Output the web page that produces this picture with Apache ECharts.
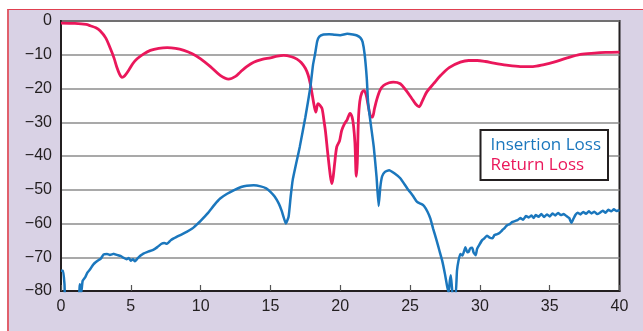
<!DOCTYPE html>
<html>
<head>
<meta charset="utf-8">
<script src="https://cdn.jsdelivr.net/npm/echarts@6/dist/echarts.min.js"></script>
<style>
  html, body { margin: 0; padding: 0; background: #ffffff; }
  #frame {
    position: absolute; left: 7px; top: 9px; width: 636px; height: 322px;
    background: #d9d2e5; border-left: 2px solid #e0606c; border-top: 1px solid #e04050;
    box-sizing: border-box;
  }
  #plotbg { position: absolute; left: 61px; top: 21px; width: 559px; height: 270px; background: #ffffff; }
  #chart { position: absolute; left: 0; top: 0; width: 643px; height: 331px; }
</style>
</head>
<body>
<div id="frame"></div>
<div id="plotbg"></div>
<div id="chart"></div>
<script>
// Frequency axis (GHz) and level axis (dB)
const xTicks = [0, 5, 10, 15, 20, 25, 30, 35, 40];
const yTicks = [0, -10, -20, -30, -40, -50, -60, -70, -80];

// Insertion loss trace
const insFreq = [0.0,0.15,0.25,0.35,1.25,1.35,1.45,1.55,1.75,1.9,2.1,2.3,2.5,2.7,2.85,3.05,3.3,3.5,3.8,4.0,4.26,4.5,4.7,4.85,5.0,5.15,5.3,5.45,5.7,5.9,6.2,6.6,6.9,7.2,7.4,7.6,7.85,8.07,8.5,9.0,9.4,9.7,10.0,10.5,11.0,11.4,11.9,12.4,12.9,13.3,13.8,14.3,14.7,15.0,15.3,15.6,15.8,15.95,16.1,16.3,16.45,16.6,17.1,17.5,17.86,18.05,18.2,18.35,18.5,18.8,19.2,19.6,20.0,20.5,20.9,21.2,21.45,21.6,21.75,21.9,22.0,22.2,22.4,22.6,22.75,22.87,23.0,23.2,23.5,23.9,24.3,24.8,25.2,25.5,25.8,26.0,26.25,26.45,26.65,26.9,27.1,27.3,27.5,27.65,27.76,27.85,27.92,28.0,28.07,28.25,28.36,28.47,28.6,28.75,28.9,28.96,29.1,29.2,29.3,29.45,29.55,29.7,29.8,29.95,30.15,30.3,30.5,30.7,30.9,31.05,31.2,31.4,31.6,31.8,31.95,32.15,32.3,32.5,32.7,32.9,33.1,33.3,33.5,33.7,33.85,34.0,34.2,34.4,34.6,34.8,35.0,35.2,35.4,35.6,35.8,36.0,36.2,36.4,36.55,36.7,36.85,37.0,37.2,37.4,37.6,37.8,38.0,38.2,38.4,38.6,38.8,39.0,39.2,39.4,39.6,39.8,40.0];
const insLoss = [-74,-74,-78,-84,-82,-78,-80.5,-77,-75.8,-74.5,-73.5,-72.2,-71.4,-70.8,-70.4,-69.2,-69.0,-69.3,-69.0,-69.3,-69.6,-70.2,-70.6,-70.2,-71.0,-70.6,-71.2,-70.5,-69.5,-68.9,-68.4,-67.8,-67.0,-66.0,-65.8,-66.0,-65.0,-64.4,-63.5,-62.5,-61.5,-60.4,-59.2,-57.0,-54.4,-52.6,-51.2,-50.1,-49.2,-48.8,-48.7,-49.0,-49.6,-50.6,-52.0,-54.1,-56.2,-58.2,-60.0,-58.0,-52,-47,-37.3,-28.5,-19.6,-13,-9.7,-6,-4.6,-4.0,-3.9,-4.1,-4.2,-3.8,-4.0,-4.3,-5.0,-6.2,-10,-17,-24.5,-31,-37.3,-46.2,-54.8,-49.2,-46,-44.7,-44.2,-45.2,-46.6,-49.6,-51.8,-53.6,-54.2,-54.8,-56.5,-58.5,-61.5,-65,-68,-71,-75,-78.5,-80.5,-77,-75.3,-79,-82,-82,-74,-71,-69,-69.5,-67.8,-67,-68.5,-68.4,-67.4,-67.2,-68.6,-69.4,-67.5,-66.4,-65,-64.5,-63.6,-64.2,-64.4,-63.4,-63.2,-62.8,-62.0,-61.2,-60.5,-60.2,-59.6,-59.3,-59.0,-58.4,-58.9,-57.8,-58.2,-57.6,-58.4,-57.5,-58.0,-57.2,-58.1,-57.3,-57.9,-57.0,-57.6,-56.9,-57.5,-57.2,-57.8,-58.4,-59.8,-58.6,-57.4,-56.8,-57.3,-56.6,-57.1,-56.4,-57.0,-56.5,-57.2,-56.8,-56.2,-56.8,-55.9,-56.4,-55.8,-56.3,-56.0];

// Return loss trace
const retFreq = [0,1,1.8,2.1,2.5,2.8,3.2,3.5,3.8,4.0,4.2,4.37,4.55,4.85,5.15,5.45,5.9,6.4,7.0,7.6,8.2,8.8,9.4,10.0,10.7,11.4,12.0,12.5,12.85,13.3,13.8,14.4,15.0,15.5,15.95,16.5,16.9,17.2,17.5,17.7,17.85,18.0,18.15,18.25,18.4,18.55,18.7,18.85,18.95,19.1,19.3,19.4,19.5,19.6,19.75,19.95,20.1,20.3,20.5,20.7,20.85,20.95,21.05,21.15,21.22,21.3,21.4,21.55,21.7,21.85,22.0,22.15,22.3,22.45,22.6,22.85,23.1,23.5,23.8,24.3,24.7,25.1,25.4,25.65,25.9,26.2,26.7,27.2,27.8,28.6,29.2,29.8,30.4,31.0,31.9,32.9,33.8,34.6,35.3,36.2,37.2,38.2,39.0,40.0];
const retLoss = [-0.6,-0.7,-1.0,-1.4,-2.0,-2.9,-5,-7.8,-11,-13.7,-15.8,-16.7,-16.3,-14.6,-12.6,-11.2,-9.8,-8.7,-8.1,-7.9,-8.1,-8.7,-9.7,-11.2,-13.5,-16.1,-17.2,-16.4,-15.1,-13.5,-12.2,-11.4,-10.9,-10.4,-10.2,-10.6,-11.3,-12.3,-14,-16,-18.5,-22,-25.5,-27,-24.5,-25,-26,-30,-33,-39,-46.2,-48.2,-46,-42.2,-37.3,-35.5,-32.5,-30.5,-29.2,-27.4,-28.5,-31,-36,-46,-42,-29.4,-23.8,-21.2,-20.6,-21.8,-25,-28,-28.5,-26,-23.5,-20.5,-19.1,-18.3,-18.1,-18.6,-20.5,-22.8,-24.6,-25.4,-23.5,-21,-18.5,-16.1,-13.8,-12.2,-11.7,-11.7,-12.0,-12.5,-13.1,-13.5,-13.5,-12.9,-12.2,-11.0,-9.9,-9.5,-9.3,-9.2];

const BLUE = '#1b77bd';
const RED = '#ea175b';
const pair = (xs, ys) => xs.map((x, i) => [x, ys[i]]);
const minusFmt = v => (v < 0 ? '\u2212' + Math.abs(v) : String(v));

const chart = echarts.init(document.getElementById('chart'), null, { renderer: 'canvas' });
chart.setOption({
  backgroundColor: 'transparent',
  animation: false,
  textStyle: { fontFamily: 'Liberation Sans, Arial, sans-serif' },
  grid: {
    left: 61, top: 21, right: 23.5, bottom: 40,
    show: true, backgroundColor: 'transparent', borderColor: '#231f20', borderWidth: 2
  },
  legend: {
    orient: 'vertical', right: 35, top: 130,
    backgroundColor: '#ffffff', borderColor: '#231f20', borderWidth: 2, borderRadius: 0,
    padding: [6, 7, 6, 10], itemGap: 2, itemWidth: 0, itemHeight: 0, icon: 'rect',
    textStyle: { fontSize: 17, fontFamily: 'Open Sans, sans-serif', padding: [0, 0, 0, -5], lineHeight: 18 },
    data: [
      { name: 'Insertion Loss', textStyle: { color: BLUE } },
      { name: 'Return Loss', textStyle: { color: RED } }
    ]
  },
  xAxis: [
    {
      type: 'value', min: 0, max: 40, interval: 5, position: 'bottom',
      axisLine: { show: true, onZero: false, lineStyle: { color: '#231f20', width: 2 } },
      axisTick: { show: false },
      axisLabel: { fontSize: 16, color: '#231f20', margin: 8,
        formatter: v => (xTicks.includes(v) ? String(v) : '') },
      splitLine: { show: false }
    },
    {
      // tick marks rising from the bottom edge
      type: 'value', min: 0, max: 40, interval: 5, position: 'top', offset: -270,
      axisLine: { show: false, onZero: false },
      axisTick: { show: true, inside: false, length: 6, lineStyle: { color: '#555', width: 1.2 } },
      axisLabel: { show: false },
      splitLine: { show: false }
    }
  ],
  yAxis: {
    type: 'value', min: -80, max: 0, interval: 10,
    axisLine: { show: true, onZero: false, lineStyle: { color: '#231f20', width: 2 } },
    axisTick: { show: false },
    axisLabel: { fontSize: 16, color: '#231f20', margin: 9,
      formatter: v => (yTicks.includes(v) ? minusFmt(v) : '') },
    splitLine: { show: true, lineStyle: { color: '#8c8c8c', width: 1.5 } }
  },
  series: [
    {
      name: 'Insertion Loss', type: 'line', data: pair(insFreq, insLoss),
      showSymbol: false, smooth: 0.15, clip: true,
      lineStyle: { color: BLUE, width: 2.5 }, itemStyle: { color: BLUE }, z: 3
    },
    {
      name: 'Return Loss', type: 'line', data: pair(retFreq, retLoss),
      showSymbol: false, smooth: 0.3, clip: true,
      lineStyle: { color: RED, width: 2.8 }, itemStyle: { color: RED }, z: 2
    }
  ]
});
</script>
</body>
</html>
